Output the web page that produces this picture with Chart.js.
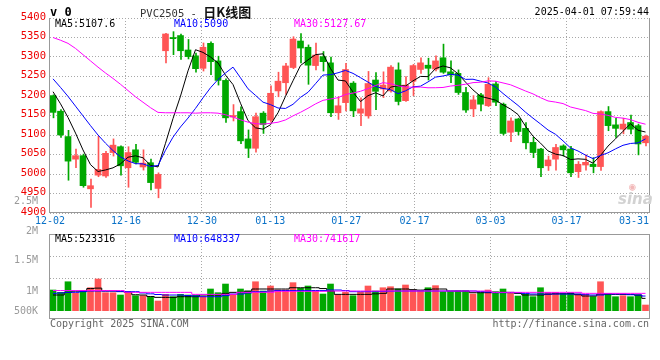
<!DOCTYPE html>
<html><head><meta charset="utf-8">
<script src="https://cdn.jsdelivr.net/npm/chart.js@4.4.1/dist/chart.umd.min.js"></script>
<style>
html,body{margin:0;padding:0;background:#fff;}
#wrap{position:relative;width:660px;height:360px;overflow:hidden;font-family:"DejaVu Sans Mono",monospace;}
canvas{position:absolute;left:0;}
.t{position:absolute;white-space:pre;font-size:10px;line-height:12px;font-family:"DejaVu Sans Mono",monospace;}
.frame{position:absolute;pointer-events:none;}
</style></head><body>
<div id="wrap">
<canvas id="pc" width="660" height="232" style="top:0"></canvas>
<canvas id="vc" width="660" height="170" style="top:190px"></canvas>
<div class="frame" style="left:49px;top:18px;width:599px;height:194px;border-left:1px solid #999;border-right:1px solid #999;border-bottom:1px solid #999;"></div>
<div class="frame" style="left:49px;top:234px;width:599px;height:83px;border:1px solid #999;"></div>
<div class="t" style="left:50px;top:5px;font-size:12px;line-height:14px;font-weight:bold;color:#000;">v 0</div>
<div class="t" style="left:140px;top:4px;font-size:13px;line-height:15px;"><span style="color:#333;font-size:10.5px;">PVC2505 - </span><span style="font-family:'Noto Sans CJK SC';font-weight:bold;color:#111;">日K线图</span></div>
<div class="t" style="right:11px;top:6px;color:#000;">2025-04-01 07:59:44</div>
<div class="t" style="left:55px;top:18px;color:#000;">MA5:5107.6</div>
<div class="t" style="left:174px;top:18px;color:#0000ff;">MA10:5090</div>
<div class="t" style="left:294px;top:18px;color:#ff00ff;">MA30:5127.67</div>
<div class="t" style="left:55px;top:233px;color:#000;">MA5:523316</div>
<div class="t" style="left:174px;top:233px;color:#0000ff;">MA10:648337</div>
<div class="t" style="left:294px;top:233px;color:#ff00ff;">MA30:741617</div>
<div class="t" style="left:50px;top:318px;color:#666;">Copyright 2025 SINA.COM</div>
<div class="t" style="right:11px;top:318px;color:#666;">http://finance.sina.com.cn</div>
<div class="t" style="left:618px;top:191px;font-family:'DejaVu Sans';font-size:15px;line-height:16px;font-style:italic;font-weight:bold;color:#d2d2d2;">sina</div>
<div class="t" style="left:629px;top:181px;font-size:11px;line-height:11px;color:#f2b8b8;">◉</div>
</div>
<script>
// ---------------- data ----------------
const dates = ['12-02','12-03','12-04','12-05','12-06','12-09','12-10','12-11','12-12','12-13',
'12-16','12-17','12-18','12-19','12-20','12-23','12-24','12-25','12-26','12-27',
'12-30','12-31','01-02','01-03','01-06','01-07','01-08','01-09','01-10','01-13',
'01-14','01-15','01-16','01-17','01-20','01-21','01-22','01-23','01-24','01-27',
'02-05','02-06','02-07','02-10','02-11','02-12','02-13','02-14','02-17','02-18',
'02-19','02-20','02-21','02-24','02-25','02-26','02-27','02-28','03-03','03-04',
'03-05','03-06','03-07','03-10','03-11','03-12','03-13','03-14','03-17','03-18',
'03-19','03-20','03-21','03-24','03-25','03-26','03-27','03-28','03-31','04-01'];
const xLabelDates = ['12-02','12-16','12-30','01-13','01-27','02-17','03-03','03-17','03-31'];
const opens = [5201,5161,5096,5038,5047,4962,4997,4995,5055,5070, 5016,5062,5018,5029,4963,5316,5350,5355,5318,5303,
5271,5335,5290,5240,5146,5160,5090,5066,5156,5138, 5213,5234,5273,5341,5325,5278,5301,5285,5157,5183,
5233,5156,5149,5241,5218,5213,5267,5188,5238,5268, 5279,5269,5298,5262,5258,5209,5167,5203,5175,5231,
5179,5107,5141,5117,5081,5064,5021,5038,5072,5064, 5006,5023,5025,5019,5160,5126,5115,5132,5124,5080];
const highs = [5203,5165,5112,5064,5051,4987,5097,5058,5090,5072, 5070,5076,5062,5038,5003,5361,5365,5359,5345,5310,
5336,5339,5302,5244,5178,5172,5113,5156,5160,5226, 5261,5284,5352,5360,5331,5336,5314,5300,5198,5284,
5237,5195,5263,5260,5262,5278,5285,5250,5281,5298, 5297,5303,5333,5290,5267,5222,5201,5207,5247,5237,
5182,5144,5143,5132,5094,5066,5046,5076,5075,5071, 5032,5049,5042,5162,5173,5143,5143,5151,5128,5100];
const lows = [5144,5094,4984,5016,4966,4914,4993,4991,5046,4997, 4966,5026,5010,4959,4939,5285,5306,5294,5295,5261,
5264,5255,5228,5132,5136,5078,5042,5056,5104,5133, 5198,5204,5270,5285,5230,5267,5264,5147,5140,5162,
5147,5124,5143,5165,5196,5210,5177,5186,5201,5258, 5241,5264,5258,5234,5204,5158,5147,5162,5173,5175,
5100,5083,5100,5064,5042,4993,5009,5010,5046,4993, 4991,5010,5003,5009,5111,5094,5103,5103,5049,5072];
const closes = [5158,5100,5033,5047,4970,4970,5012,5053,5074,5021, 5055,5030,5028,4978,4999,5359,5347,5316,5301,5270,
5325,5288,5240,5144,5150,5085,5066,5147,5127,5207, 5238,5277,5346,5323,5279,5305,5288,5157,5175,5268,
5162,5167,5232,5212,5228,5274,5186,5228,5278,5285, 5271,5290,5261,5254,5209,5164,5190,5179,5230,5184,
5104,5136,5109,5080,5055,5016,5036,5068,5062,5003, 5025,5030,5019,5160,5124,5117,5128,5115,5077,5097];
const ma5 = [5211,5180,5145,5105,5061.6,5024,5006.4,5010.4,5015.8,5026, 5043,5046.6,5041.6,5022.4,5018,5078.8,5142.2,5199.8,5264.4,5318.6,
5311.8,5300,5284.8,5253.4,5229.4,5181.4,5137,5118.4,5115,5126.4, 5157,5199.2,5239,5278.2,5292.6,5306,5308.2,5270.4,5240.8,5238.6,
5210,5185.8,5200.8,5208.2,5200.2,5222.6,5226.4,5225.6,5238.8,5250.2, 5249.6,5270.4,5277,5272.2,5257,5235.6,5215.6,5199.2,5194.4,5189.4,
5177.4,5166.6,5152.6,5122.6,5096.8,5079.2,5059.2,5051,5047.4,5037, 5038.8,5037.6,5027.8,5047.4,5071.6,5090,5109.6,5128.8,5112.2,5107.6];
const ma10 = [5244,5222,5199,5174,5149,5124,5100,5079,5060,5043.8, 5033.5,5026.5,5026,5019.1,5022,5060.9,5094.4,5120.7,5143.4,5168.3,
5195.3,5221.1,5242.3,5258.9,5274,5246.6,5218.5,5201.6,5184.2,5177.9, 5169.2,5168.1,5178.7,5196.6,5209.5,5231.5,5253.7,5254.7,5259.5,5265.6,
5258,5247,5235.6,5224.5,5219.4,5216.3,5206.1,5213.2,5223.5,5225.2, 5236.1,5248.4,5251.3,5255.5,5253.6,5242.6,5243,5238.1,5233.3,5223.2,
5206.5,5191.1,5175.9,5158.5,5143.1,5128.3,5112.9,5101.8,5085,5066.9, 5059,5048.4,5039.4,5047.4,5054.3,5064.4,5073.6,5078.3,5079.8,5090];
const ma30 = [5350,5343,5335,5322,5306,5290,5274,5259,5245,5230, 5214,5198,5184,5170,5158,5157,5157,5157,5157,5156,
5157,5157,5156,5152,5146,5139,5133,5129,5128,5130, 5132.7,5138.6,5149,5158.2,5168.5,5179.7,5188.9,5192.3,5195.7,5203.9,
5207.5,5212.1,5218.9,5226.7,5234.3,5231.5,5226.1,5223.2,5222.4,5222.9, 5221.1,5221.2,5221.9,5225.5,5227.5,5230.1,5234.3,5235.3,5238.8,5238,
5233.5,5228.8,5220.9,5212.8,5205.4,5195.7,5187.3,5184.4,5180.6,5171.8, 5167.2,5162.6,5155.5,5153.8,5150.3,5145.1,5143.2,5139.4,5132.5,5127.67];
const volumes = [727,674,915,651,704,779,977,666,666,613, 689,598,598,575,477,628,575,628,613,613,
575,750,666,863,628,750,704,915,704,818, 727,727,894,765,818,704,636,863,613,674,
598,674,818,704,779,802,750,841,727,704, 779,826,689,689,704,704,636,666,727,689,
750,674,590,636,575,779,674,674,636,666, 636,628,575,915,651,575,598,575,613,386].map(v=>v*1000);
const volMa5 = [613,613,674,700,704,760,770,704,704,690, 674,620,613,580,560,560,560,575,575,575,
613,613,613,650,674,674,700,750,750,750, 750,750,779,779,779,779,760,704,628,628,
628,628,628,640,651,750,750,750,735,725, 740,750,750,704,704,704,666,666,666,674,
674,674,650,613,613,613,630,640,643,643, 620,590,590,636,636,628,628,628,613,537].map(v=>v*1000);
const volMa10 = [651,660,674,674,690,704,704,704,704,695, 689,689,660,640,625,613,613,613,600,590,
575,575,575,600,636,636,660,689,689,704, 715,715,715,715,715,715,715,727,727,715,
689,689,689,689,695,700,704,704,704,704, 704,704,704,704,704,704,704,690,680,666,
666,666,666,650,636,636,636,636,636,636, 636,620,613,613,636,636,636,620,613,590].map(v=>v*1000);
const volMa30 = [715,715,715,715,715,715,715,715,715,715, 674,674,674,674,674,674,674,674,674,628,
628,628,628,628,628,674,674,674,674,674, 697,697,697,697,697,697,697,704,704,704,
704,704,704,704,704,704,704,704,704,704, 704,704,704,704,704,704,704,704,704,674,
674,674,674,674,674,674,674,674,674,674, 674,651,651,651,651,651,651,651,651,651].map(v=>v*1000);
const priceTicks = {min:4900, max:5400, step:50};
const volRange = {min:250000, max:2000000};
const volGridValues = [1000000, 1500000];
const volTickLabels = ['2.5M','2M','1.5M','1M','500K'];
const volTickAnchors = [2750000, 2068000, 1409000, 704000, 250000]; // where sina prints them

// ---------------- styles ----------------
const RED = '#ff5555', GREEN = '#00a800', GRID = '#a8a8a8';
const FONT = '"DejaVu Sans Mono", monospace';
const N = dates.length;
const idx = dates.map((d,i)=>i);
const candleColor = idx.map(i => closes[i] >= opens[i] ? RED : GREEN);
const labelIdx = xLabelDates.map(d => dates.indexOf(d));

const dateLabelPlugin = {
  id: 'dateLabels',
  afterDraw(chart){
    const s = chart.scales.xg, ca = chart.chartArea, ctx = chart.ctx;
    ctx.save();
    ctx.font = '10px ' + FONT; ctx.fillStyle = '#0a72c8';
    ctx.textBaseline = 'middle'; ctx.textAlign = 'center';
    labelIdx.forEach(i => {
      const txt = dates[i]; const w = ctx.measureText(txt).width;
      let x = s.getPixelForValue(i);
      x = Math.min(x, ca.right - w/2 - 1);
      ctx.fillText(txt, x, ca.bottom + 8.5);
    });
    ctx.restore();
  }
};

function slotAxis(shift){
  return {type:'linear', min:-0.4-shift, max:N-0.4-shift, display:false, offset:false, grid:{offset:false}};
}
function gridAxis(){
  return {
    type:'linear', position:'bottom', min:0, max:N-1, offset:false,
    afterBuildTicks: s => { s.ticks = labelIdx.map(v=>({value:v})); },
    ticks:{display:false},
    grid:{offset:false, color: c => (c.index === labelIdx.length-1 || c.index === 0) ? 'rgba(0,0,0,0)' : GRID, lineWidth:1, drawTicks:false},
    border:{display:false, dash:[1,2]},
    afterFit: s => { s.height = 0; }
  };
}
function lineDs(arr, color, axis, yAxis, stepped){
  return {type:'line', data: idx.map(i=>({x:i, y:arr[i]})), xAxisID:axis, yAxisID:yAxis,
    borderColor:color, borderWidth:1, pointRadius:0, tension:0, stepped: stepped||false, order:0};
}

// ---------------- price chart ----------------
new Chart(document.getElementById('pc'), {
  type:'bar',
  data:{ datasets:[
    {type:'bar', data: idx.map(i=>({x:i, y:[lows[i], highs[i]]})), xAxisID:'xw', yAxisID:'y',
      backgroundColor: candleColor, barThickness:1, grouped:false, order:3},
    {type:'bar', data: idx.map(i=>({x:i, y:[opens[i], closes[i]]})), xAxisID:'xb', yAxisID:'y',
      backgroundColor: candleColor, barThickness:6, grouped:false, minBarLength:1, order:2},
    lineDs(ma30, '#ff00ff', 'xb', 'y'),
    lineDs(ma10, '#0000ff', 'xb', 'y'),
    lineDs(ma5, '#000000', 'xb', 'y')
  ]},
  options:{
    responsive:false, animation:false, events:[],
    layout:{padding:{left:0, right:10, top:18, bottom:19}},
    plugins:{legend:{display:false}, tooltip:{enabled:false}},
    scales:{
      xb: slotAxis(0),
      xw: slotAxis(0.5/7.5),
      xg: gridAxis(),
      y:{type:'linear', position:'left', min:priceTicks.min, max:priceTicks.max,
        ticks:{stepSize:priceTicks.step, color:'#ee0000', font:{family:FONT, size:10.5}, padding:4, labelOffset:-1,
          callback: v => String(v)},
        grid:{color:GRID, lineWidth:1, drawTicks:false},
        border:{display:false, dash:[1,2]},
        afterFit: s => { s.width = 50; }}
    }
  },
  plugins:[dateLabelPlugin]
});

// ---------------- volume chart ----------------
new Chart(document.getElementById('vc'), {
  type:'bar',
  data:{ datasets:[
    {type:'bar', data: idx.map(i=>({x:i, y:volumes[i]})), xAxisID:'xb', yAxisID:'yv',
      backgroundColor: candleColor, barThickness:6, grouped:false, order:2},
    lineDs(volMa30, '#ff00ff', 'xb', 'yv', 'middle'),
    lineDs(volMa10, '#0000ff', 'xb', 'yv', 'middle'),
    lineDs(volMa5, '#000000', 'xb', 'yv', 'middle')
  ]},
  options:{
    responsive:false, animation:false, events:[],
    layout:{padding:{left:0, right:10, top:44, bottom:49}},
    plugins:{legend:{display:false}, tooltip:{enabled:false}},
    scales:{
      xb: slotAxis(0),
      xg: gridAxis(),
      yv:{type:'linear', position:'left', min:volRange.min, max:volRange.max,
        afterBuildTicks: s => { s.ticks = volTickAnchors.map(v=>({value:v})); },
        ticks:{color:'#9a9a9a', font:{family:FONT, size:10}, padding:4, autoSkip:false,
          callback:(v,i)=>volTickLabels[i]},
        grid:{display:false},
        border:{display:false},
        afterFit: s => { s.width = 50; }},
      yg:{type:'linear', position:'left', min:volRange.min, max:volRange.max,
        afterBuildTicks: s => { s.ticks = volGridValues.map(v=>({value:v})); },
        ticks:{display:false},
        grid:{color:GRID, lineWidth:1, drawTicks:false},
        border:{display:false, dash:[1,2]},
        afterFit: s => { s.width = 0; }}
    }
  }
});
</script>
</body></html>
